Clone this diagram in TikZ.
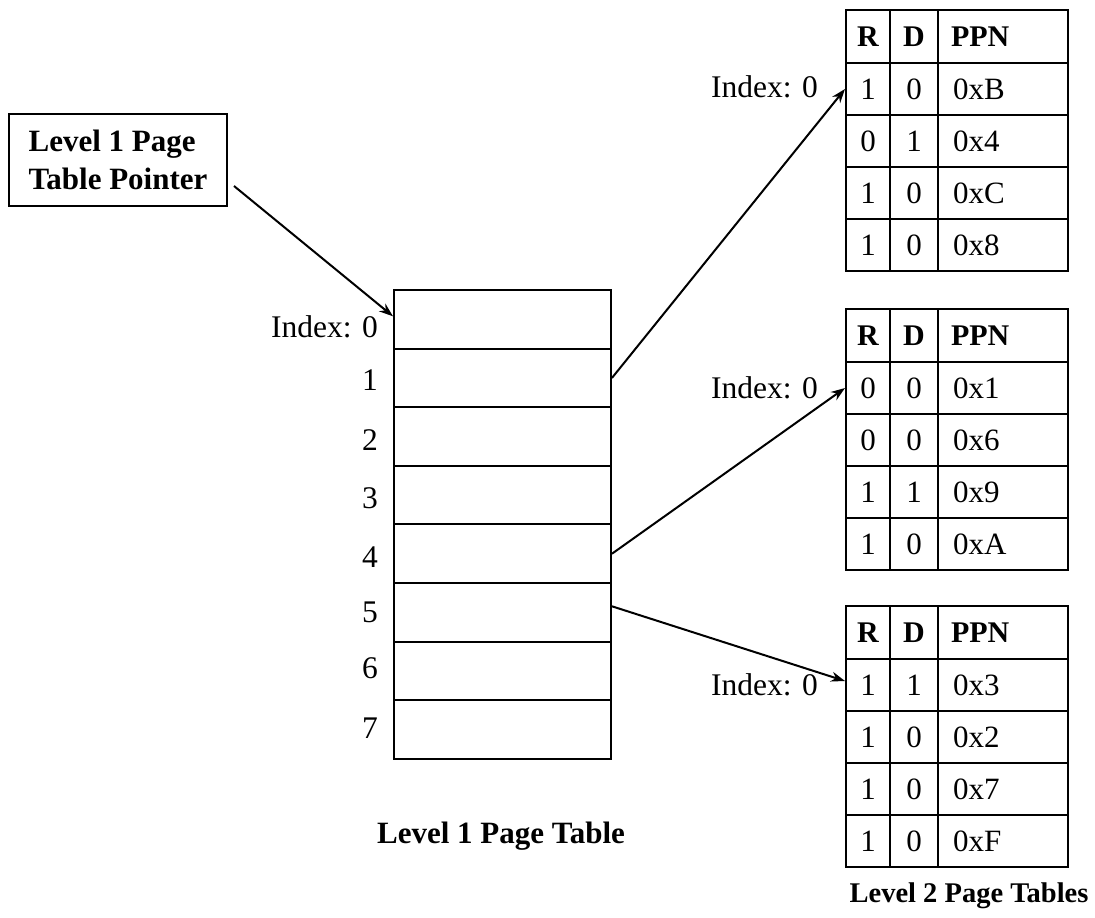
\documentclass[tikz,border=0pt]{standalone}
\usepackage{fontspec}
\setmainfont{Liberation Serif}
\usetikzlibrary{arrows.meta}
\begin{document}
\begin{tikzpicture}[x=1pt,y=-1pt,
  lw/.style={line width=2pt},
  arr/.style={line width=2pt,-{Stealth[length=14pt,width=10pt]}},
  bodyfont/.style={font=\fontsize{31}{36}\selectfont},
  idxfont/.style={font=\fontsize{31.5}{36}\selectfont},
  boldfont/.style={font=\bfseries\fontsize{31}{38}\selectfont},
  headfont/.style={font=\bfseries\fontsize{30}{34}\selectfont},
  l1cell/.style={draw,lw,inner sep=0pt,anchor=north west,minimum width=217pt,minimum height=58.6pt},
  cell/.style={draw,lw,inner sep=0pt,anchor=north west},
  idx/.style={idxfont,inner sep=0pt,anchor=base east}
]
\path[fill=white,use as bounding box] (0,0) rectangle (1095,918);

% pointer box
\node[draw,lw,anchor=north west,minimum width=218pt,minimum height=92pt,inner sep=0pt,align=left,boldfont] (p) at (8,113) {Level 1 Page\\Table Pointer};

% level 1 page table
\foreach \i in {0,...,7} {
  \node[l1cell] (l1r\i) at (393,{289+\i*58.6}) {};
}
\node[idx] (ix0) at (378,337) {Index: 0};
\node[idx] (ix1) at (378,390) {1};
\node[idx] (ix2) at (378,450) {2};
\node[idx] (ix3) at (378,508) {3};
\node[idx] (ix4) at (378,567) {4};
\node[idx] (ix5) at (378,622) {5};
\node[idx] (ix6) at (378,678) {6};
\node[idx] (ix7) at (378,738) {7};
\node[boldfont,anchor=base,inner sep=0pt] (l1lab) at (501,843) {Level 1 Page Table};

% level 2 tables
\newcommand\ltwotable[3]{%
  \node[cell,headfont,minimum width=44pt,minimum height=53pt] (#1hr) at (845,#2) {R};
  \node[cell,headfont,minimum width=48pt,minimum height=53pt] (#1hd) at (889,#2) {D};
  \node[cell,headfont,minimum height=53pt,text width=104pt,align=left,inner xsep=13pt] (#1hp) at (937,#2) {PPN};
  \foreach \r/\a/\b/\c in {#3} {
    \node[cell,bodyfont,minimum width=44pt,minimum height=52pt] (#1a\r) at (845,{#2+53+(\r-1)*52}) {\a};
    \node[cell,bodyfont,minimum width=48pt,minimum height=52pt] (#1b\r) at (889,{#2+53+(\r-1)*52}) {\b};
    \node[cell,bodyfont,minimum height=52pt,text width=100pt,align=left,inner xsep=15pt] (#1c\r) at (937,{#2+53+(\r-1)*52}) {\c};
  }
}
\ltwotable{ta}{9}{1/1/0/0xB,2/0/1/0x4,3/1/0/0xC,4/1/0/0x8}
\ltwotable{tb}{308}{1/0/0/0x1,2/0/0/0x6,3/1/1/0x9,4/1/0/0xA}
\ltwotable{tc}{605}{1/1/1/0x3,2/1/0/0x2,3/1/0/0x7,4/1/0/0xF}

\node[idx] (ia) at (818,97) {Index: 0};
\node[idx] (ib) at (818,398) {Index: 0};
\node[idx] (ic) at (818,695) {Index: 0};
\node[font=\bfseries\fontsize{28.5}{34}\selectfont,anchor=base,inner sep=0pt] (l2lab) at (969,902) {Level 2 Page Tables};

% connectors
\draw[arr] ([xshift=6pt,yshift=-26pt]p.east) -- ([yshift=3pt]l1r0.west);
\draw[arr] (l1r1.east) -- (taa1.west);
\draw[arr] (l1r4.east) -- (tba1.west);
\draw[arr] ([yshift=6pt]l1r5.east) -- ([yshift=4pt]tca1.west);
\end{tikzpicture}
\end{document}
